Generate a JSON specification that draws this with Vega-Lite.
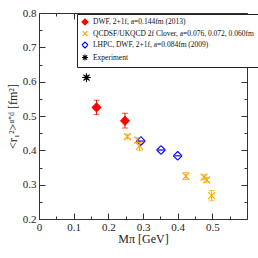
{
  "$schema": "https://vega.github.io/schema/vega-lite/v6.json",
  "width": 208,
  "height": 206,
  "autosize": {"type": "none"},
  "padding": {"left": 39, "top": 13, "right": 11, "bottom": 39},
  "background": "white",
  "config": {
    "view": {"stroke": "#333", "strokeWidth": 1},
    "font": "Liberation Serif",
    "axis": {
      "domainColor": "#333",
      "tickColor": "#333",
      "labelColor": "#222",
      "titleColor": "#222",
      "labelFont": "Liberation Serif",
      "titleFont": "Liberation Serif",
      "titleFontWeight": "normal",
      "labelFontSize": 11,
      "titleFontSize": 12,
      "grid": false
    }
  },
  "data": {
    "values": [
      {"series": "DWF, 2+1f, a=0.144fm (2013)", "x": 0.166, "y": 0.525, "lo": 0.504, "hi": 0.546},
      {"series": "DWF, 2+1f, a=0.144fm (2013)", "x": 0.248, "y": 0.486, "lo": 0.465, "hi": 0.508},
      {"series": "QCDSF/UKQCD 2f Clover, a=0.076, 0.072, 0.060fm", "x": 0.255, "y": 0.44, "lo": 0.433, "hi": 0.447},
      {"series": "QCDSF/UKQCD 2f Clover, a=0.076, 0.072, 0.060fm", "x": 0.285, "y": 0.43, "lo": 0.423, "hi": 0.437},
      {"series": "QCDSF/UKQCD 2f Clover, a=0.076, 0.072, 0.060fm", "x": 0.29, "y": 0.412, "lo": 0.4, "hi": 0.424},
      {"series": "QCDSF/UKQCD 2f Clover, a=0.076, 0.072, 0.060fm", "x": 0.424, "y": 0.325, "lo": 0.315, "hi": 0.335},
      {"series": "QCDSF/UKQCD 2f Clover, a=0.076, 0.072, 0.060fm", "x": 0.476, "y": 0.322, "lo": 0.315, "hi": 0.329},
      {"series": "QCDSF/UKQCD 2f Clover, a=0.076, 0.072, 0.060fm", "x": 0.484, "y": 0.314, "lo": 0.307, "hi": 0.321},
      {"series": "QCDSF/UKQCD 2f Clover, a=0.076, 0.072, 0.060fm", "x": 0.498, "y": 0.268, "lo": 0.253, "hi": 0.283},
      {"series": "LHPC, DWF, 2+1f, a=0.084fm (2009)", "x": 0.294, "y": 0.427, "lo": 0.4265, "hi": 0.4275},
      {"series": "LHPC, DWF, 2+1f, a=0.084fm (2009)", "x": 0.352, "y": 0.401, "lo": 0.4005, "hi": 0.4015},
      {"series": "LHPC, DWF, 2+1f, a=0.084fm (2009)", "x": 0.4, "y": 0.384, "lo": 0.3835, "hi": 0.3845},
      {"series": "Experiment", "x": 0.137, "y": 0.612, "lo": 0.607, "hi": 0.617}
    ]
  },
  "layer": [
    {
      "encoding": {
        "x": {
          "field": "x", "type": "quantitative",
          "scale": {"domain": [0, 0.6], "nice": false, "zero": false},
          "axis": {
            "orient": "bottom",
            "title": "Mπ [GeV]",
            "values": [0, 0.05, 0.1, 0.15, 0.2, 0.25, 0.3, 0.35, 0.4, 0.45, 0.5, 0.55],
            "labelExpr": "abs(round(datum.value*20)) % 2 == 0 ? (datum.value == 0 ? '0' : format(datum.value, '.1f')) : ''",
            "tickSize": {"condition": {"test": "abs(round(datum.value*20)) % 2 == 0", "value": -6}, "value": -3},
            "labelPadding": 8,
            "titlePadding": 1,
            "labelFlush": false
          }
        },
        "y": {
          "field": "y", "type": "quantitative",
          "scale": {"domain": [0.2, 0.8], "nice": false, "zero": false},
          "axis": {
            "orient": "left",
            "title": "<r₁²>ᵘ⁺ᵈ [fm²]",
            "values": [0.2, 0.25, 0.3, 0.35, 0.4, 0.45, 0.5, 0.55, 0.6, 0.65, 0.7, 0.75, 0.8],
            "labelExpr": "abs(round(datum.value*20)) % 2 == 0 ? format(datum.value, '.1f') : ''",
            "tickSize": {"condition": {"test": "abs(round(datum.value*20)) % 2 == 0", "value": -6}, "value": -3},
            "labelPadding": 9,
            "titlePadding": 3,
            "labelFlush": false
          }
        }
      },
      "layer": [
        {
          "mark": {"type": "point", "filled": false, "strokeWidth": 1.1, "size": 75, "opacity": 1},
          "encoding": {
            "color": {"field": "series", "type": "nominal", "title": null,
              "scale": {"domain": ["DWF, 2+1f, a=0.144fm (2013)", "QCDSF/UKQCD 2f Clover, a=0.076, 0.072, 0.060fm", "LHPC, DWF, 2+1f, a=0.084fm (2009)", "Experiment"],
                        "range": ["#ff0000", "#ffa500", "#0000ff", "#000000"]},
              "legend": {
                "orient": "none", "legendX": 38, "legendY": 1,
                "direction": "vertical",
                "strokeColor": "#222", "fillColor": "white",
                "padding": 4,
                "labelFont": "Liberation Serif", "labelFontSize": 7.5, "labelColor": "#111",
                "labelLimit": 300,
                "symbolSize": 36, "rowPadding": 0.5, "symbolStrokeWidth": 1.1
              }
            },
            "fill": {"field": "series", "type": "nominal", "title": null,
              "scale": {"domain": ["DWF, 2+1f, a=0.144fm (2013)", "QCDSF/UKQCD 2f Clover, a=0.076, 0.072, 0.060fm", "LHPC, DWF, 2+1f, a=0.084fm (2009)", "Experiment"],
                        "range": ["#ff0000", "#ffa500", "#0000ff", "#000000"]}},
            "shape": {"field": "series", "type": "nominal", "title": null,
              "scale": {"domain": ["DWF, 2+1f, a=0.144fm (2013)", "QCDSF/UKQCD 2f Clover, a=0.076, 0.072, 0.060fm", "LHPC, DWF, 2+1f, a=0.084fm (2009)", "Experiment"],
                        "range": ["diamond", "M-0.8,-0.8L0.8,0.8M-0.8,0.8L0.8,-0.8", "M-1,0L0,-1M0,-1L1,0M1,0L0,1M0,1L-1,0", "M0,-1L0,1M-1,0L1,0M-0.7,-0.7L0.7,0.7M-0.7,0.7L0.7,-0.7M-0.3,-0.3L0.3,-0.3L0.3,0.3L-0.3,0.3Z"]}}
          }
        },
        {
          "mark": {"type": "rule", "strokeWidth": 1},
          "encoding": {
            "y": {"field": "lo", "type": "quantitative"},
            "y2": {"field": "hi"},
            "color": {"field": "series", "type": "nominal"}
          }
        },
        {
          "mark": {"type": "tick", "orient": "horizontal", "size": 6, "thickness": 1},
          "encoding": {
            "y": {"field": "lo", "type": "quantitative"},
            "color": {"field": "series", "type": "nominal"}
          }
        },
        {
          "mark": {"type": "tick", "orient": "horizontal", "size": 6, "thickness": 1},
          "encoding": {
            "y": {"field": "hi", "type": "quantitative"},
            "color": {"field": "series", "type": "nominal"}
          }
        }
      ]
    },
    {
      "mark": {"type": "point", "opacity": 0},
      "encoding": {
        "x": {"field": "x", "type": "quantitative",
          "axis": {"orient": "top", "title": null, "labels": false, "domain": false,
            "values": [0, 0.05, 0.1, 0.15, 0.2, 0.25, 0.3, 0.35, 0.4, 0.45, 0.5, 0.55],
            "tickSize": {"condition": {"test": "abs(round(datum.value*20)) % 2 == 0", "value": -6}, "value": -3}}},
        "y": {"field": "y", "type": "quantitative",
          "axis": {"orient": "right", "title": null, "labels": false, "domain": false,
            "values": [0.2, 0.25, 0.3, 0.35, 0.4, 0.45, 0.5, 0.55, 0.6, 0.65, 0.7, 0.75, 0.8],
            "tickSize": {"condition": {"test": "abs(round(datum.value*20)) % 2 == 0", "value": -6}, "value": -3}}}
      }
    }
  ],
  "resolve": {"axis": {"x": "independent", "y": "independent"}}
}
